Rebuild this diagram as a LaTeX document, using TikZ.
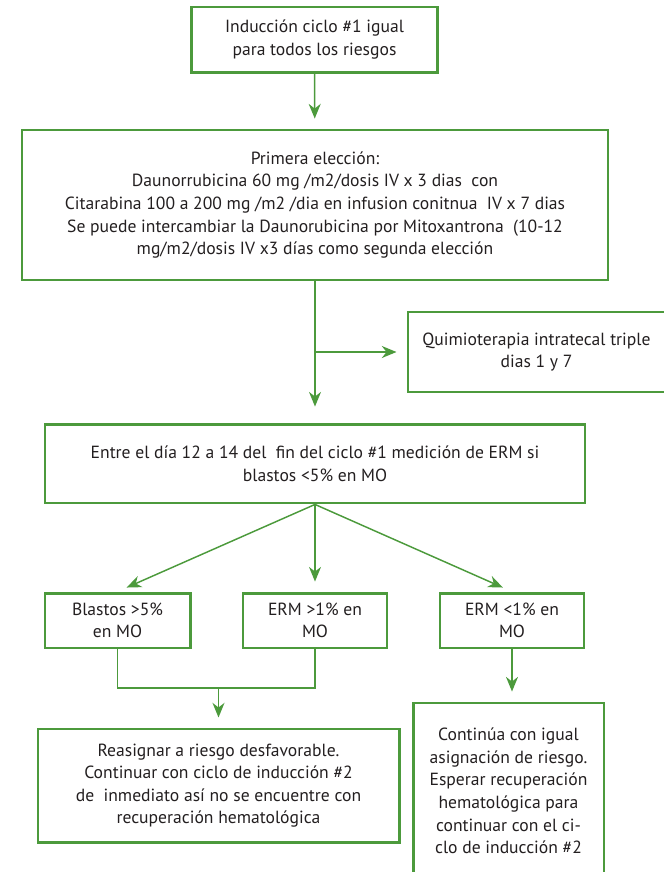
\documentclass[tikz,border=0pt]{standalone}
\usepackage{fontspec}
\setmainfont{PT Sans}
\usetikzlibrary{arrows.meta, positioning}
\definecolor{verde}{RGB}{76, 154, 60}
\definecolor{texto}{RGB}{35, 31, 32}

\begin{document}
\begin{tikzpicture}[x=0.75pt,y=-0.75pt,
          box/.style={draw=verde,line width=2.2pt,align=center,inner sep=0pt,
                      text=texto,font=\fontsize{13.2}{16.9}\selectfont},
          flecha/.style={verde,line width=1.1pt,
                      -{Stealth[length=11pt,width=9pt,inset=3.5pt]},shorten >=7.5pt}]
        \useasboundingbox (0,0) rectangle (664,872);
        \clip (0,0) rectangle (664,872);
        \node[box,minimum width=185pt,minimum height=48.8pt](ind) at (314.5,39.5)
          {Inducción ciclo \#1 igual\\para todos los riesgos};
        \node[box,minimum width=439.5pt,minimum height=112.5pt](pri) at (315,205)
          {Primera elección:\\Daunorrubicina 60 mg /m2/dosis IV x 3 dias\ \ con\\
           Citarabina 100 a 200 mg /m2 /dia en infusion conitnua\ \ IV x 7 dias\\
           Se puede intercambiar la Daunorubicina por Mitoxantrona\ \ (10-12\\
           mg/m2/dosis IV x3 días como segunda elección};
        \node[box,minimum width=192.8pt,minimum height=60pt](qui) at (536.5,352)
          {Quimioterapia intratecal triple\\dias 1 y 7};
        \node[box,minimum width=405pt,minimum height=59.2pt](ent) at (315,463.5)
          {Entre el día 12 a 14 del\ \ fin del ciclo \#1 medición de ERM si\\blastos <5\% en MO};
        \node[box,minimum width=108.8pt,minimum height=41.2pt](bla) at (117.5,620.5)
          {Blastos >5\%\\en MO};
        \node[box,minimum width=108pt,minimum height=41.2pt](erma) at (315,620.5)
          {ERM >1\% en\\MO};
        \node[box,minimum width=108pt,minimum height=41.2pt](ermb) at (512,620.5)
          {ERM <1\% en\\MO};
        \node[box,minimum width=270.8pt,minimum height=84.8pt](rea) at (218.5,785.5)
          {Reasignar a riesgo desfavorable.\\Continuar con ciclo de inducción \#2\\
           de\ \ inmediato así no se encuentre con\\recuperación hematológica};
        \node[box,minimum width=143.2pt,minimum height=132pt](con) at (508.5,791)
          {Continúa con igual\\asignación de riesgo.\\Esperar recuperación\\
           hematológica para\\continuar con el ci-\\clo de inducción \#2};
        \coordinate (rama) at (pri.south |- qui.west);
        \coordinate (union) at (218.5,688);
        \draw[flecha](ind)--(pri);
        \draw[flecha,shorten >=12pt](pri)--(ent);
        \draw[flecha](rama)--(qui.west);
        \draw[flecha](ent.south)--(bla.north);
        \draw[flecha](ent.south)--(erma.north);
        \draw[flecha](ent.south)--(ermb.north);
        \draw[verde,line width=0.8pt](bla.south)--(bla.south |- union)
          --(erma.south |- union)--(erma.south);
        \draw[flecha](union)--(rea.north);
        \draw[flecha](ermb)--(con.north -| ermb);
      \end{tikzpicture}
\end{document}
